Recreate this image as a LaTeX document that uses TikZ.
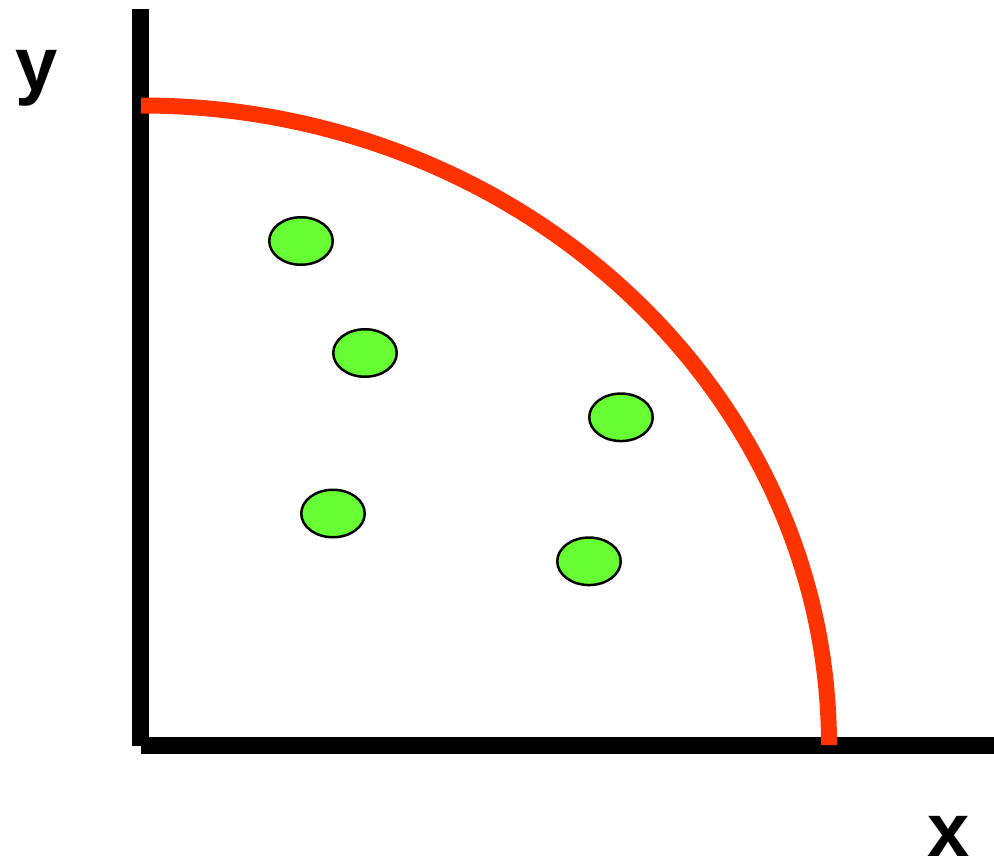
\documentclass[tikz,border=0pt]{standalone}
\usepackage{fontspec}
\setmainfont{Liberation Sans}
\definecolor{arcred}{RGB}{255, 51, 0}
\definecolor{pointgreen}{RGB}{102, 255, 51}
\usetikzlibrary{shapes.geometric}

\begin{document}
\begin{tikzpicture}[
      x=0.5pt, y=0.5pt,
      axisline/.style={draw=black, line width=8.5pt},
      boundary/.style={draw=arcred, line width=8pt},
      point/.style={ellipse, draw=black, fill=pointgreen, line width=1.25pt, minimum width=31.75pt, minimum height=23.75pt, inner sep=0pt},
      axislabel/.style={font=\fontsize{38}{38}\selectfont\bfseries, inner sep=0pt, anchor=base}
    ]
      \useasboundingbox (0,0) rectangle (994,864);

      % axes
      \coordinate (ytop) at (140.5,855);
      \coordinate (ybottom) at (140.5,118.3);
      \coordinate (xstart) at (141,118.8);
      \coordinate (xend) at (994,118.8);
      \draw[axisline] (ytop) -- (ybottom);
      \draw[axisline] (xstart) -- (xend);

      \node (ylabel) [axislabel] at (36.5,773) {y};
      \node (xlabel) [axislabel] at (949,8) {x};

      % boundary
      \coordinate (arcstart) at (141,758.5);
      \draw[boundary] (arcstart) arc[start angle=90, end angle=0, x radius=688, y radius=639.7];

      % points
      \node (p1) [point] at (301,623) {};
      \node (p2) [point] at (365,511) {};
      \node (p3) [point] at (621,446.7) {};
      \node (p4) [point] at (333,350.5) {};
      \node (p5) [point] at (589,302.7) {};
    \end{tikzpicture}
\end{document}
